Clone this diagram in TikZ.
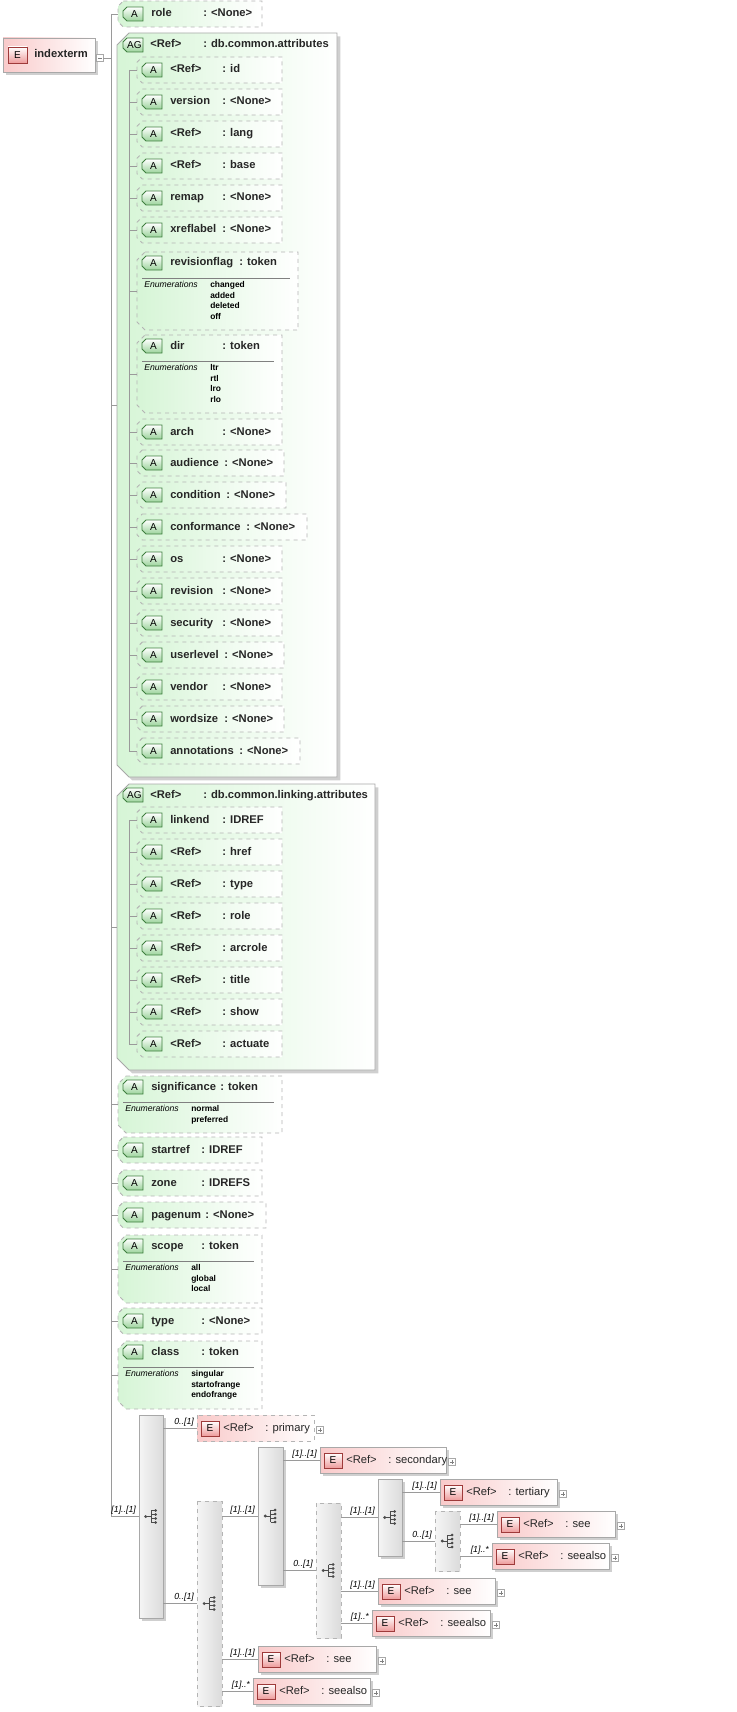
\documentclass[tikz,border=0pt]{standalone}
\usepackage{fontspec}
\setmainfont{Liberation Sans}
\usetikzlibrary{calc}
\definecolor{linegray}{HTML}{9A9A9A}
\definecolor{boxgray}{HTML}{A8A8A8}
\definecolor{dashgray}{HTML}{B4B4B4}
\definecolor{attrgreen}{HTML}{D6F5D6}
\definecolor{badgegreen}{HTML}{9CD49C}
\definecolor{badgeline}{HTML}{3F7F3F}
\definecolor{elempink}{HTML}{F9CACA}
\definecolor{badgered}{HTML}{EE9C9C}
\definecolor{badgeredline}{HTML}{9E3A3A}
\definecolor{shadowgray}{HTML}{CFCFCF}
\definecolor{txtgray}{HTML}{262626}

\tikzset{
  frame/.style={inner sep=0pt, outer sep=0pt},
  line/.style={draw=linegray, line width=0.7pt},
  sepline/.style={draw=gray, line width=0.5pt},
  txt/.style={anchor=west, inner sep=0pt, text height=6.2pt, text depth=1.7pt,
    font=\fontsize{8.4}{10}\selectfont\bfseries, text=txtgray},
  enum/.style={anchor=north west, inner sep=0pt, align=left, font=\fontsize{6.3}{8}\selectfont\bfseries},
  enumhead/.style={anchor=north west, inner sep=0pt, font=\fontsize{6.5}{8}\selectfont\itshape},
  card/.style={inner sep=0pt, font=\fontsize{6.6}{8}\selectfont\itshape, anchor=south east, xshift=-2pt, yshift=1pt},
  attrfill/.style={left color=attrgreen, right color=white, draw=dashgray, dashed, line width=0.7pt},
  groupfill/.style={left color=attrgreen, right color=white, draw=boxgray, line width=0.7pt},
  badgefill/.style={top color=white, bottom color=badgegreen, draw=badgeline, line width=0.6pt},
  elemsolid/.style={left color=elempink, right color=white, draw=boxgray, line width=0.7pt},
  elemdashed/.style={left color=elempink, right color=white, draw=dashgray, dashed, line width=0.7pt},
  elemsolidshadow/.style={fill=shadowgray},
  elemdashedshadow/.style={draw=none},
  compsolid/.style={left color=gray!8, right color=gray!28, draw=boxgray, line width=0.7pt},
  compdashed/.style={left color=gray!8, right color=gray!28, draw=dashgray, dashed, line width=0.7pt},
  compsolidshadow/.style={fill=shadowgray},
  compdashedshadow/.style={draw=none},
  plusbox/.style={frame, draw=boxgray, fill=white, line width=0.4pt, minimum size=5pt},
}

% box frame in pixel coordinates
\newcommand\boxat[5]{%
  \node[frame, minimum width={((#4)-(#2))*0.75pt}, minimum height={((#5)-(#3))*0.75pt}]
    (#1) at ({((#2)+(#4))/2},{((#3)+(#5))/2}) {};}
\newcommand\chpath[2]{([xshift=#2]#1.north west) -- (#1.north east) -- (#1.south east)
  -- ([xshift=#2]#1.south west) -- ([yshift=#2]#1.south west) -- ([yshift=-#2]#1.north west) -- cycle}
\newcommand\abadge[4]{%
  \boxat{#1}{#2}{(#3)-7}{(#2)+20}{(#3)+7}
  \path[badgefill] \chpath{#1}{3pt};
  \node[inner sep=0pt, font=\fontsize{7.5}{8}\selectfont] at ([xshift=1pt]#1.center) {#4};}
\newcommand\attr[7]{%
  \boxat{#1}{#2}{(#3)-13}{#4}{(#3)+13}
  \path[attrfill] \chpath{#1}{4pt};
  \abadge{#1b}{(#2)+5}{#3}{A}
  \node[txt] at ({(#2)+33},#3) {#5};
  \node[txt] at (#6,#3) {: #7};}
\newcommand\enumattr[9]{%
  \boxat{#1}{#2}{#3}{#4}{#5}
  \path[attrfill] \chpath{#1}{6pt};
  \abadge{#1b}{(#2)+5}{(#3)+11}{A}
  \node[txt] at ({(#2)+33},{(#3)+11}) {#6};
  \node[txt] at (#7,{(#3)+11}) {: #8};
  \draw[sepline] ({(#2)+5},{(#3)+26}) -- ({(#4)-8},{(#3)+26});
  \node[enumhead] at ({(#2)+7},{(#3)+29}) {Enumerations};
  \node[enum] at ({(#2)+73},{(#3)+29}) {#9};}
\newcommand\elem[6][elemsolid]{%
  \boxat{#2}{#3}{(#4)-13}{#5}{(#4)+13}
  \path[#1shadow, transform canvas={shift={(2pt,-2pt)}}] (#2.north west) rectangle (#2.south east);
  \path[#1] (#2.north west) rectangle (#2.south east);
  \boxat{#2b}{(#3)+4}{(#4)-7}{(#3)+22}{(#4)+8}
  \path[top color=white, bottom color=badgered, draw=badgeredline, line width=0.6pt] (#2b.north west) rectangle (#2b.south east);
  \node[inner sep=0pt, font=\fontsize{7.5}{8}\selectfont] at (#2b.center) {E};
  \node[txt, font=\fontsize{8.4}{10}\selectfont] at ({(#3)+26},#4) {<Ref>};
  \node[txt, font=\fontsize{8.4}{10}\selectfont] at ({(#3)+68},#4) {: #6};
  \node[plusbox] (#2p) at ({(#5)+6},{(#4)+2}) {};
  \draw[gray, line width=0.4pt] ([xshift=-1.6pt]#2p.center) -- ([xshift=1.6pt]#2p.center)
    ([yshift=-1.6pt]#2p.center) -- ([yshift=1.6pt]#2p.center);}
\newcommand\comp[6][compsolid]{%
  \boxat{#2}{#3}{#4}{#5}{#6}
  \path[#1shadow, transform canvas={shift={(2pt,-2pt)}}] (#2.north west) rectangle (#2.south east);
  \path[#1] (#2.north west) rectangle (#2.south east);
  \fill[black!70] ([xshift=-4pt]#2.center) circle (1.2pt);
  \draw[black!70, line width=0.6pt] ([xshift=-4pt]#2.center) -- (#2.center)
    ([yshift=4.5pt]#2.center) -- ([yshift=-4.5pt]#2.center);
  \foreach \d in {-4.5,-1.5,1.5,4.5} {
    \draw[black!70, line width=0.6pt] ([yshift=\d pt]#2.center) -- ([xshift=3pt,yshift=\d pt]#2.center);
    \fill[black!70] ([xshift=3.5pt,yshift=\d pt]#2.center) circle (1.1pt);
  }}

\begin{document}
\begin{tikzpicture}[x=0.75pt, y=-0.75pt]
  \useasboundingbox (0,0) rectangle (736,1712);
  \coordinate (trunk) at (111,0);
  \coordinate (agtrunk) at (129,0);

  % root element
  \boxat{indexterm}{3}{38}{95}{72}
  \path[fill=shadowgray, transform canvas={shift={(2pt,-2pt)}}] (indexterm.north west) rectangle (indexterm.south east);
  \path[elemsolid] (indexterm.north west) rectangle (indexterm.south east);
  \boxat{indextermb}{8}{47}{27}{63}
  \path[top color=white, bottom color=badgered, draw=badgeredline, line width=0.6pt] (indextermb.north west) rectangle (indextermb.south east);
  \node[inner sep=0pt, font=\fontsize{7.5}{8}\selectfont] at (indextermb.center) {E};
  \node[txt] at (34,55) {indexterm};
  \node[plusbox] (indextermm) at (100,58) {};
  \draw[gray, line width=0.4pt] ([xshift=-1.6pt]indextermm.center) -- ([xshift=1.6pt]indextermm.center);

  % attributes
  \attr{role}{118}{14}{262}{role}{203}{<None>}

  % db.common.attributes
  \boxat{agone}{117}{33}{337}{777}
  \path[fill=shadowgray, transform canvas={shift={(2.5pt,-2.5pt)}}] \chpath{agone}{9pt};
  \path[groupfill] \chpath{agone}{9pt};
  \abadge{agoneb}{123}{45}{AG}
  \node[txt] at (150,45) {<Ref>};
  \node[txt] at (203,45) {: db.common.attributes};
  \attr{id}{137}{70}{282}{<Ref>}{222}{id}
  \attr{version}{137}{102}{282}{version}{222}{<None>}
  \attr{lang}{137}{134}{282}{<Ref>}{222}{lang}
  \attr{base}{137}{166}{282}{<Ref>}{222}{base}
  \attr{remap}{137}{198}{282}{remap}{222}{<None>}
  \attr{xreflabel}{137}{230}{282}{xreflabel}{222}{<None>}
  \enumattr{revisionflag}{137}{252}{298}{330}{revisionflag}{239}{token}{changed\\added\\deleted\\off}
  \enumattr{dir}{137}{335}{282}{413}{dir}{222}{token}{ltr\\rtl\\lro\\rlo}
  \attr{arch}{137}{432}{282}{arch}{222}{<None>}
  \attr{audience}{137}{463}{284}{audience}{224}{<None>}
  \attr{condition}{137}{495}{286}{condition}{226}{<None>}
  \attr{conformance}{137}{527}{307}{conformance}{246}{<None>}
  \attr{os}{137}{559}{282}{os}{222}{<None>}
  \attr{revision}{137}{591}{282}{revision}{222}{<None>}
  \attr{security}{137}{623}{282}{security}{222}{<None>}
  \attr{userlevel}{137}{655}{284}{userlevel}{224}{<None>}
  \attr{vendor}{137}{687}{282}{vendor}{222}{<None>}
  \attr{wordsize}{137}{719}{284}{wordsize}{224}{<None>}
  \attr{annotations}{137}{751}{300}{annotations}{239}{<None>}
  \draw[line] (agtrunk |- id.west) -- (agtrunk |- annotations.west);
  \foreach \n in {id,version,lang,base,remap,xreflabel,revisionflag,dir,arch,audience,condition,
      conformance,os,revision,security,userlevel,vendor,wordsize,annotations}
    \draw[line] (agtrunk |- \n.west) -- (\n.west);

  % db.common.linking.attributes
  \boxat{agtwo}{117}{784}{375}{1070}
  \path[fill=shadowgray, transform canvas={shift={(2.5pt,-2.5pt)}}] \chpath{agtwo}{9pt};
  \path[groupfill] \chpath{agtwo}{9pt};
  \abadge{agtwob}{123}{795}{AG}
  \node[txt] at (150,795) {<Ref>};
  \node[txt] at (203,795) {: db.common.linking.attributes};
  \attr{linkend}{137}{820}{282}{linkend}{222}{IDREF}
  \attr{lkhref}{137}{852}{282}{<Ref>}{222}{href}
  \attr{lktype}{137}{884}{282}{<Ref>}{222}{type}
  \attr{lkrole}{137}{916}{282}{<Ref>}{222}{role}
  \attr{lkarcrole}{137}{948}{282}{<Ref>}{222}{arcrole}
  \attr{lktitle}{137}{980}{282}{<Ref>}{222}{title}
  \attr{lkshow}{137}{1012}{282}{<Ref>}{222}{show}
  \attr{lkactuate}{137}{1044}{282}{<Ref>}{222}{actuate}
  \draw[line] (agtrunk |- linkend.west) -- (agtrunk |- lkactuate.west);
  \foreach \n in {linkend,lkhref,lktype,lkrole,lkarcrole,lktitle,lkshow,lkactuate}
    \draw[line] (agtrunk |- \n.west) -- (\n.west);

  \enumattr{significance}{118}{1076}{282}{1133}{significance}{220}{token}{normal\\preferred}
  \attr{startref}{118}{1150}{262}{startref}{201}{IDREF}
  \attr{zone}{118}{1183}{262}{zone}{201}{IDREFS}
  \attr{pagenum}{118}{1215}{266}{pagenum}{205}{<None>}
  \enumattr{scope}{118}{1235}{262}{1303}{scope}{201}{token}{all\\global\\local}
  \attr{type}{118}{1321}{262}{type}{201}{<None>}
  \enumattr{class}{118}{1341}{262}{1409}{class}{201}{token}{singular\\startofrange\\endofrange}

  % content model
  \comp{seqone}{139}{1415}{163}{1618}
  \elem[elemdashed]{primary}{197}{1428}{314}{primary}
  \comp[compdashed]{choicetwo}{197}{1501}{222}{1706}
  \comp{seqthree}{258}{1447}{283}{1585}
  \elem{secondary}{320}{1460}{446}{secondary}
  \comp[compdashed]{choicefour}{316}{1503}{341}{1638}
  \comp{seqfive}{378}{1479}{402}{1556}
  \elem{tertiary}{440}{1492}{557}{tertiary}
  \comp[compdashed]{choicesix}{435}{1511}{460}{1571}
  \elem{seeinner}{497}{1524}{615}{see}
  \elem{seealsoinner}{492}{1556}{609}{seealso}
  \elem{seemid}{378}{1591}{495}{see}
  \elem{seealsomid}{372}{1623}{490}{seealso}
  \elem{seeouter}{258}{1659}{376}{see}
  \elem{seealsoouter}{253}{1691}{370}{seealso}

  % trunk
  \draw[line] (indextermm.east) -- (trunk |- indextermm.east);
  \draw[line] (trunk |- role.west) -- (trunk |- seqone.west);
  \foreach \n in {role,agone,agtwo,significance,startref,zone,pagenum,scope,type,class}
    \draw[line] (trunk |- \n.west) -- (\n.west);
  \draw[line] (trunk |- seqone.west) -- (seqone.west) node[card] {[1]..[1]};

  % compositor links
  \draw[line] (seqone.east |- primary.west) -- (primary.west) node[card] {0..[1]};
  \draw[line] (seqone.east |- choicetwo.west) -- (choicetwo.west) node[card] {0..[1]};
  \draw[line] (choicetwo.east |- seqthree.west) -- (seqthree.west) node[card] {[1]..[1]};
  \draw[line] (choicetwo.east |- seeouter.west) -- (seeouter.west) node[card] {[1]..[1]};
  \draw[line] (choicetwo.east |- seealsoouter.west) -- (seealsoouter.west) node[card] {[1]..*};
  \draw[line] (seqthree.east |- secondary.west) -- (secondary.west) node[card] {[1]..[1]};
  \draw[line] (seqthree.east |- choicefour.west) -- (choicefour.west) node[card] {0..[1]};
  \draw[line] (choicefour.east |- seqfive.west) -- (seqfive.west) node[card] {[1]..[1]};
  \draw[line] (choicefour.east |- seemid.west) -- (seemid.west) node[card] {[1]..[1]};
  \draw[line] (choicefour.east |- seealsomid.west) -- (seealsomid.west) node[card] {[1]..*};
  \draw[line] (seqfive.east |- tertiary.west) -- (tertiary.west) node[card] {[1]..[1]};
  \draw[line] (seqfive.east |- choicesix.west) -- (choicesix.west) node[card] {0..[1]};
  \draw[line] (choicesix.east |- seeinner.west) -- (seeinner.west) node[card] {[1]..[1]};
  \draw[line] (choicesix.east |- seealsoinner.west) -- (seealsoinner.west) node[card] {[1]..*};
\end{tikzpicture}
\end{document}
